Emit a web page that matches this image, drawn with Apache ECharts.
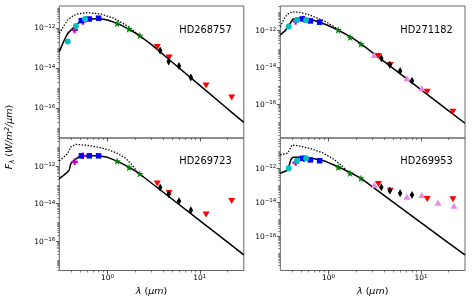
<!DOCTYPE html>
<html><head><meta charset="utf-8">
<script src="https://cdn.jsdelivr.net/npm/echarts@6/dist/echarts.min.js"></script>
<style>html,body{margin:0;padding:0;background:#fff}#c{width:474px;height:300px}</style>
</head><body><div id="c"></div>
<script>
// ---------- data (wavelength in µm, flux given as log10 of F_λ in W/m²/µm) ----------
const starNames = ['HD268757', 'HD271182', 'HD269723', 'HD269953'];
const xMajorTicks = [1, 10];
const yMajorTicks = [1e-16, 1e-14, 1e-12];

const lamCyan = [0.37, 0.455, 0.57];
const lamMagenta = [0.44, 0.54];
const lamBlue = [0.52, 0.635, 0.80];
const lamGreen = [1.27, 1.71, 2.24];
const lamRed = [3.46, 4.65, 11.7, 22.2];
const lamBlack = [3.72, 4.6, 5.95, 8.0];
const lamPinkTR = [3.13, 7.05, 10.2];
const lamPinkBR = [3.13, 7.05, 10.2, 15.3, 22.8];

// HD268757
const tlCyan = [-12.68, -11.9, -11.55];
const tlMagenta = [-12.1, -11.68];
const tlBlue = [-11.63, -11.55, -11.51];
const tlGreen = [-11.77, -12.05, -12.38];
const tlRed = [-12.95, -13.47, -14.87, -15.47];
const tlBlack = [-13.13, -13.68, -13.9, -14.47];
const tlModelLam = [0.3, 0.34, 0.37, 0.42, 0.47, 0.52, 0.6, 0.8, 1.0, 1.3, 1.7, 2.2, 3.0, 5, 10, 20, 30];
const tlModel = [-13.18, -12.6, -12.27, -12.02, -11.8, -11.63, -11.57, -11.52, -11.6, -11.78, -12.06, -12.37, -12.83, -13.7, -14.87, -16.04, -16.72];
const tlDotLam = [0.3, 0.33, 0.37, 0.42, 0.47, 0.6, 0.85, 1.18, 1.64, 2.0, 2.3];
const tlDot = [-12.27, -11.95, -11.6, -11.4, -11.3, -11.23, -11.3, -11.52, -11.9, -12.2, -12.43];

// HD271182
const trCyan = [-11.78, -11.42, -11.42];
const trMagenta = [-11.5, -11.38];
const trBlue = [-11.36, -11.47, -11.54];
const trGreen = [-11.96, -12.36, -12.72];
const trPink = [-13.32, -14.59, -15.13];
const trRed = [-13.38, -13.86, -15.32, -16.4];
const trBlack = [-13.5, -13.85, -14.19, -14.72];
const trModelLam = [0.3, 0.34, 0.37, 0.41, 0.45, 0.55, 0.7, 0.8, 0.95, 1.25, 1.74, 2.23, 5, 10, 20, 30];
const trModel = [-12.23, -12.0, -11.72, -11.38, -11.33, -11.33, -11.45, -11.54, -11.68, -11.95, -12.34, -12.7, -14.05, -15.2, -16.36, -17.03];
const trDotLam = [0.3, 0.33, 0.36, 0.4, 0.48, 0.6, 0.77, 0.94, 1.16, 1.3];
const trDot = [-11.8, -11.35, -11.1, -10.98, -11.0, -11.12, -11.33, -11.52, -11.8, -11.97];

// HD269723
const blMagenta = [-11.77, -11.45];
const blBlue = [-11.45, -11.45, -11.45];
const blGreen = [-11.73, -12.07, -12.41];
const blRed = [-12.93, -13.43, -14.57, -13.86];
const blBlack = [-13.14, -13.5, -13.87, -14.35];
const blModelLam = [0.3, 0.355, 0.385, 0.4, 0.436, 0.49, 0.55, 0.8, 1.0, 1.27, 1.71, 2.2, 5, 10, 20, 30];
const blModel = [-12.66, -12.39, -12.2, -11.86, -11.68, -11.5, -11.45, -11.45, -11.53, -11.73, -12.05, -12.39, -13.75, -14.9, -16.05, -16.73];
const blDotLam = [0.3, 0.33, 0.37, 0.4, 0.455, 0.58, 0.81, 1.04, 1.28, 1.58, 1.85, 2.1];
const blDot = [-11.72, -11.55, -11.32, -10.97, -10.84, -10.88, -11.0, -11.14, -11.32, -11.59, -11.95, -12.3];

// HD269953
const brCyan = [-12.0, -11.56, -11.42];
const brMagenta = [-11.67, -11.45];
const brBlue = [-11.42, -11.51, -11.56];
const brGreen = [-11.94, -12.29, -12.58];
const brPink = [-12.98, -13.66, -13.56, -14.01, -14.2];
const brRed = [-12.92, -13.31, -13.8, -13.81];
const brBlack = [-13.11, -13.3, -13.46, -13.56];
const brModelLam = [0.3, 0.36, 0.375, 0.39, 0.41, 0.5, 0.7, 0.86, 0.94, 1.25, 1.67, 2.23, 5, 10, 20, 30];
const brModel = [-12.29, -12.12, -12.05, -11.5, -11.36, -11.36, -11.45, -11.55, -11.61, -11.9, -12.22, -12.58, -13.98, -15.18, -16.38, -17.07];
const brDotLam = [0.3, 0.36, 0.38, 0.4, 0.45, 0.62, 0.86, 1.1, 1.36, 1.55];
const brDot = [-11.22, -11.12, -10.9, -10.64, -10.67, -10.83, -11.09, -11.42, -11.8, -12.1];

// y-axis limits (log10) per panel
const yLimLo = [-17.5, -17.83, -17.56, -17.98];
const yLimHi = [-10.9, -10.66, -10.5, -10.23];

// ---------- layout / styles ----------
const FONT = 'DejaVu Sans';
const grids = [
  {left: 59.3, top: 6, width: 184.5, height: 132},
  {left: 280.3, top: 6, width: 184.7, height: 132},
  {left: 59.3, top: 138, width: 184.5, height: 132.5},
  {left: 280.3, top: 138, width: 184.7, height: 132.5}
];
const panelSets = [
  {model: [tlModelLam, tlModel], dot: [tlDotLam, tlDot], pts: [
    ['m', lamMagenta, tlMagenta], ['b', lamBlue, tlBlue], ['c', lamCyan, tlCyan], ['g', lamGreen, tlGreen],
    ['r', lamRed, tlRed], ['k', lamBlack, tlBlack]]},
  {model: [trModelLam, trModel], dot: [trDotLam, trDot], pts: [
    ['m', lamMagenta, trMagenta], ['b', lamBlue, trBlue], ['c', lamCyan, trCyan], ['g', lamGreen, trGreen],
    ['p', lamPinkTR, trPink], ['r', lamRed, trRed], ['k', lamBlack, trBlack]]},
  {model: [blModelLam, blModel], dot: [blDotLam, blDot], pts: [
    ['m', lamMagenta, blMagenta], ['b', lamBlue, blBlue], ['g', lamGreen, blGreen],
    ['r', lamRed, blRed], ['k', lamBlack, blBlack]]},
  {model: [brModelLam, brModel], dot: [brDotLam, brDot], pts: [
    ['m', lamMagenta, brMagenta], ['b', lamBlue, brBlue], ['c', lamCyan, brCyan], ['g', lamGreen, brGreen],
    ['p', lamPinkBR, brPink], ['r', lamRed, brRed], ['k', lamBlack, brBlack]]}
];
const STAR = 'path://M0,-1L0.2245,-0.309L0.951,-0.309L0.363,0.118L0.588,0.809L0,0.382L-0.588,0.809L-0.363,0.118L-0.951,-0.309L-0.2245,-0.309Z';
const PLUS = 'path://M-1,-0.33L-0.33,-0.33L-0.33,-1L0.33,-1L0.33,-0.33L1,-0.33L1,0.33L0.33,0.33L0.33,1L-0.33,1L-0.33,0.33L-1,0.33Z';
const markerStyle = {
  m: {symbol: PLUS, size: 6.5, color: '#BF00BF'},
  b: {symbol: 'rect', size: 5.5, color: '#0000FF'},
  c: {symbol: 'circle', size: 6, color: '#00BFBF'},
  g: {symbol: STAR, size: 7.5, color: '#008000'},
  p: {symbol: 'triangle', size: [7, 6], color: '#EE82EE'},
  r: {symbol: 'triangle', size: [7, 6], color: '#FF0000', rotate: 180},
  k: {symbol: 'diamond', size: [4.5, 8], color: '#000000'}
};

function supLabel(v) {
  const e = Math.round(Math.log10(v));
  return '{b|10}{s|' + String(e).replace('-', '\u2212') + '}';
}
const labelRich = {
  b: {fontSize: 7.5, fontFamily: FONT, color: '#000', lineHeight: 9, padding: [3, 0, 0, 0], verticalAlign: 'bottom'},
  s: {fontSize: 5.5, fontFamily: FONT, color: '#000', lineHeight: 6, verticalAlign: 'top'}
};
const xMinorTicks = [0.4, 0.5, 0.6, 0.7, 0.8, 0.9, 2, 3, 4, 5, 6, 7, 8, 9, 20];
function yMinorTicks(lo, hi) {
  const out = [];
  for (let d = Math.floor(lo); d <= Math.ceil(hi); d++) {
    for (let m = 1; m <= 9; m++) {
      if (m === 1 && d % 2 === 0) continue;
      const v = m * Math.pow(10, d);
      const lv = Math.log10(v);
      if (lv > lo + 0.01 && lv < hi - 0.01) out.push(v);
    }
  }
  return out;
}

const xAxes = [], yAxes = [], series = [];
const TICKC = '#333';
grids.forEach((g, i) => {
  const bottomRow = i >= 2;
  xAxes.push({type: 'log', logBase: 10, gridIndex: i, position: 'bottom', min: 0.3, max: 30,
    axisLine: {show: false, onZero: false}, splitLine: {show: false}, minorTick: {show: false},
    axisTick: {show: true, customValues: xMajorTicks, length: 3.5, lineStyle: {color: TICKC, width: 0.8}},
    axisLabel: {show: bottomRow, customValues: xMajorTicks, margin: 3, formatter: supLabel, rich: labelRich}});
  xAxes.push({type: 'log', logBase: 10, gridIndex: i, position: 'bottom', min: 0.3, max: 30,
    axisLine: {show: false, onZero: false}, splitLine: {show: false},
    axisTick: {show: true, customValues: xMinorTicks, length: 2, lineStyle: {color: TICKC, width: 0.6}},
    axisLabel: {show: false}});
  const lo = yLimLo[i], hi = yLimHi[i];
  yAxes.push({type: 'log', logBase: 10, gridIndex: i, position: 'left', min: Math.pow(10, lo), max: Math.pow(10, hi),
    axisLine: {show: false, onZero: false}, splitLine: {show: false},
    axisTick: {show: true, customValues: yMajorTicks, length: 3.5, lineStyle: {color: TICKC, width: 0.8}},
    axisLabel: {show: true, customValues: yMajorTicks, margin: 4, formatter: supLabel, rich: labelRich}});
  yAxes.push({type: 'log', logBase: 10, gridIndex: i, position: 'left', min: Math.pow(10, lo), max: Math.pow(10, hi),
    axisLine: {show: false, onZero: false}, splitLine: {show: false},
    axisTick: {show: true, customValues: yMinorTicks(lo, hi), length: 2, lineStyle: {color: TICKC, width: 0.6}},
    axisLabel: {show: false}});

  const ps = panelSets[i];
  const toData = (lam, lg) => lam.map((l, k) => [l, Math.pow(10, lg[k])]);
  series.push({type: 'line', xAxisIndex: 2 * i, yAxisIndex: 2 * i, data: toData(ps.dot[0], ps.dot[1]),
    showSymbol: false, symbol: 'none', silent: true, z: 2,
    lineStyle: {color: '#000', width: 1.3, type: [1.4, 1.6]}});
  series.push({type: 'line', xAxisIndex: 2 * i, yAxisIndex: 2 * i, data: toData(ps.model[0], ps.model[1]),
    showSymbol: false, symbol: 'none', silent: true, z: 2,
    lineStyle: {color: '#000', width: 1.5}});
  ps.pts.forEach((p, k) => {
    const st = markerStyle[p[0]];
    series.push({type: 'scatter', xAxisIndex: 2 * i, yAxisIndex: 2 * i, data: toData(p[1], p[2]),
      symbol: st.symbol, symbolSize: st.size, symbolRotate: st.rotate || 0, silent: true, z: 3 + k,
      itemStyle: {color: st.color, opacity: 1}});
  });
});

const nameStyle = {fontSize: 9.8, fontFamily: FONT, fill: '#000', align: 'center', verticalAlign: 'middle'};
const labelPos = [[205.5, 30], [426.5, 30], [205.5, 161.5], [426.5, 161.5]];
const graphic = starNames.map((n, i) => ({type: 'text', x: labelPos[i][0], y: labelPos[i][1], silent: true,
  style: Object.assign({text: n}, nameStyle)}));
const titleRich = {
  i: {fontSize: 9.5, fontFamily: FONT, fontStyle: 'italic', fill: '#000', lineHeight: 12},
  n: {fontSize: 9.5, fontFamily: FONT, fill: '#000', lineHeight: 12},
  sub: {fontSize: 7, fontFamily: FONT, fontStyle: 'italic', fill: '#000', lineHeight: 12, padding: [4, 0, 0, 0]},
  sup: {fontSize: 6.5, fontFamily: FONT, fontStyle: 'italic', fill: '#000', lineHeight: 7, verticalAlign: 'top'}
};
[[151.5, 291.5], [372.7, 291.5]].forEach(p => graphic.push({type: 'text', x: p[0], y: p[1], silent: true,
  style: {text: '{i|λ}{n| (}{i|μm}{n|)}', rich: titleRich, align: 'center', verticalAlign: 'middle'}}));
graphic.push({type: 'text', x: 10, y: 137, rotation: Math.PI / 2, silent: true,
  style: {text: '{i|F}{sub|λ}{n| (}{i|W/m}{sup|2}{i|/μm}{n|)}', rich: titleRich, align: 'center', verticalAlign: 'middle'}});

const chart = echarts.init(document.getElementById('c'), null, {renderer: 'canvas'});
chart.setOption({
  animation: false,
  backgroundColor: '#fff',
  grid: grids.map(g => Object.assign({show: true, borderColor: '#666', borderWidth: 1, backgroundColor: 'transparent', containLabel: false}, g)),
  xAxis: xAxes,
  yAxis: yAxes,
  series: series,
  graphic: graphic
});
</script></body></html>
